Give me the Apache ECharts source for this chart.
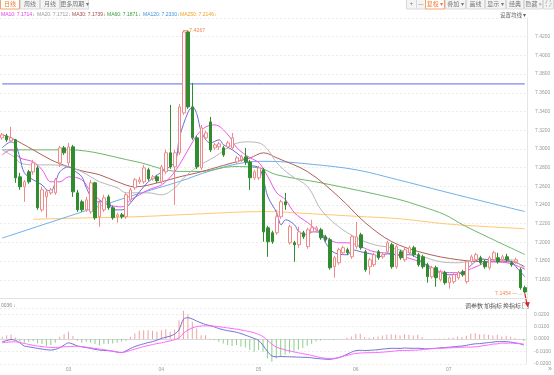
<!DOCTYPE html>
<html><head><meta charset="utf-8">
<script src="https://cdn.jsdelivr.net/npm/echarts@6/dist/echarts.min.js"></script>
<style>html,body{margin:0;padding:0;background:#fff}#c{width:554px;height:375px}</style>
</head><body><div id="c"></div>
<script>
// ---------- DATA ----------
const firstDay = '2025-02-10';
// [open, close, low, high]
const candles = [
[7.3118,7.3150,7.3097,7.3171],[7.3139,7.3097,7.3075,7.3161],[7.3086,7.3118,7.3075,7.3236],[7.3097,7.2691,7.2637,7.3107],
[7.2701,7.2594,7.2562,7.2744],[7.2594,7.2648,7.2434,7.2669],[7.2755,7.2648,7.2627,7.2776],[7.2755,7.2851,7.2723,7.2883],
[7.2797,7.2370,7.2348,7.2819],[7.2348,7.2562,7.2327,7.2594],[7.2487,7.2541,7.2263,7.2562],[7.2530,7.2562,7.2509,7.2584],
[7.2530,7.2669,7.2509,7.2691],[7.2851,7.3011,7.2808,7.3032],[7.3011,7.2958,7.2936,7.3032],[7.2851,7.3022,7.2808,7.3064],
[7.3022,7.2541,7.2487,7.3043],[7.2530,7.2348,7.2327,7.2562],[7.2434,7.2348,7.2327,7.2455],[7.2348,7.2455,7.2327,7.2487],
[7.2327,7.2637,7.2306,7.2669],[7.2637,7.2263,7.2242,7.2648],[7.2274,7.2423,7.2167,7.2455],[7.2348,7.2477,7.2327,7.2509],
[7.2487,7.2370,7.2348,7.2509],[7.2370,7.2263,7.2242,7.2391],[7.2274,7.2295,7.2210,7.2316],[7.2295,7.2274,7.2252,7.2316],
[7.2274,7.2509,7.2252,7.2530],[7.2455,7.2562,7.2434,7.2584],[7.2584,7.2669,7.2562,7.2691],[7.2648,7.2669,7.2627,7.2701],
[7.2648,7.2797,7.2627,7.2829],[7.2776,7.2680,7.2659,7.2797],[7.2680,7.2701,7.2659,7.2723],[7.2701,7.2659,7.2637,7.2723],
[7.2648,7.2808,7.2627,7.2829],[7.2755,7.2958,7.2733,7.2990],[7.2958,7.2808,7.2786,7.3471],[7.2808,7.2958,7.2402,7.2990],
[7.2958,7.3449,7.2936,7.3481],[7.3385,7.4251,7.3364,7.4267],[7.4251,7.3449,7.3428,7.4261],[7.3449,7.3118,7.3097,7.3706],
[7.3118,7.2808,7.2786,7.3139],[7.2797,7.3225,7.2776,7.3257],[7.3118,7.3171,7.3097,7.3193],[7.3289,7.2990,7.2968,7.3342],
[7.3011,7.3043,7.2990,7.3064],[7.3022,7.3054,7.2990,7.3075],[7.3011,7.2936,7.2915,7.3032],[7.3022,7.3064,7.3001,7.3086],
[7.3011,7.3118,7.2990,7.3171],[7.2861,7.2904,7.2840,7.2926],[7.2883,7.2915,7.2861,7.2936],[7.2915,7.2861,7.2829,7.3011],
[7.2861,7.2691,7.2562,7.2883],[7.2691,7.2755,7.2669,7.2776],[7.2691,7.2797,7.2669,7.2819],[7.2776,7.2113,7.2007,7.2797],
[7.2156,7.2007,7.1846,7.2177],[7.2103,7.2007,7.1985,7.2124],[7.2103,7.2274,7.2081,7.2348],[7.2274,7.2434,7.2252,7.2455],
[7.2434,7.2402,7.2348,7.2530],[7.1996,7.2167,7.1975,7.2188],[7.1996,7.1975,7.1793,7.2017],[7.1975,7.2113,7.1943,7.2167],
[7.2103,7.2060,7.2038,7.2124],[7.1954,7.2135,7.1932,7.2156],[7.2113,7.2156,7.2103,7.2242],[7.2135,7.2156,7.2113,7.2177],
[7.2135,7.2049,7.2028,7.2156],[7.2060,7.2028,7.2007,7.2081],[7.2028,7.1729,7.1708,7.2049],[7.1740,7.1836,7.1622,7.1857],
[7.1782,7.1921,7.1761,7.1943],[7.1889,7.1943,7.1868,7.1964],[7.1921,7.1889,7.1868,7.1943],[7.1846,7.2060,7.1825,7.2081],
[7.1954,7.2060,7.1932,7.2220],[7.2081,7.1943,7.1921,7.2103],[7.1900,7.1708,7.1686,7.1921],[7.1740,7.1814,7.1654,7.1836],
[7.1761,7.1868,7.1740,7.1889],[7.1900,7.1836,7.1814,7.1921],[7.1846,7.1868,7.1825,7.1889],[7.1900,7.1996,7.1878,7.2017],
[7.1975,7.1740,7.1718,7.1996],[7.1740,7.1954,7.1718,7.1975],[7.1900,7.1836,7.1814,7.1921],[7.1814,7.1921,7.1793,7.1943],
[7.1889,7.1943,7.1868,7.1964],[7.1943,7.1868,7.1846,7.1964],[7.1868,7.1761,7.1740,7.1889],[7.1846,7.1740,7.1718,7.1868],
[7.1761,7.1633,7.1569,7.1782],[7.1633,7.1729,7.1612,7.1750],[7.1729,7.1622,7.1526,7.1750],[7.1601,7.1686,7.1580,7.1708],
[7.1676,7.1569,7.1548,7.1697],[7.1569,7.1622,7.1505,7.1644],[7.1580,7.1654,7.1558,7.1676],[7.1622,7.1676,7.1601,7.1697],
[7.1686,7.1654,7.1633,7.1708],[7.1580,7.1793,7.1558,7.1814],[7.1793,7.1846,7.1772,7.1868],[7.1814,7.1868,7.1793,7.1889],
[7.1836,7.1782,7.1761,7.1857],[7.1793,7.1740,7.1718,7.1814],[7.1729,7.1836,7.1708,7.1857],[7.1814,7.1889,7.1793,7.1911],
[7.1836,7.1793,7.1772,7.1889],[7.1814,7.1846,7.1793,7.1868],[7.1846,7.1814,7.1793,7.1878],[7.1782,7.1761,7.1740,7.1804],
[7.1793,7.1814,7.1772,7.1836],[7.1708,7.1516,7.1494,7.1729],[7.1516,7.1470,7.1454,7.1537]
];
// moving averages: [dayIndex, value]
const ma5 = [[0,7.3011],[2,7.3075],[3,7.3043],[4,7.2904],[5,7.2744],[7,7.2669],[9,7.2616],[10,7.2562],[11,7.2552],[12,7.2637],[13,7.2755],[15,7.2808],[16,7.2776],[18,7.2701],[19,7.2584],[21,7.2434],[22,7.2434],[24,7.2434],[25,7.2348],[27,7.2348],[29,7.2423],[31,7.2541],[33,7.2648],[36,7.2755],[39,7.2861],[40,7.3118],[42,7.3396],[43,7.3449],[44,7.3364],[45,7.3182],[47,7.3064],[49,7.3097],[50,7.3043],[52,7.2990],[54,7.2915],[56,7.2829],[58,7.2797],[59,7.2669],[60,7.2487],[62,7.2316],[63,7.2188],[64,7.2242],[66,7.2188],[67,7.2113],[69,7.2081],[70,7.2113],[72,7.2103],[73,7.1996],[75,7.1889],[78,7.1868],[79,7.1921],[81,7.1900],[82,7.1889],[84,7.1868],[85,7.1846],[87,7.1878],[89,7.1868],[92,7.1868],[95,7.1782],[97,7.1708],[99,7.1676],[101,7.1654],[104,7.1676],[106,7.1761],[108,7.1825],[110,7.1814],[113,7.1814],[115,7.1793],[116,7.1740],[118,7.1633]];
const ma10 = [[0,7.2936],[2,7.2990],[4,7.2904],[7,7.2861],[9,7.2776],[11,7.2648],[13,7.2648],[15,7.2701],[18,7.2669],[20,7.2541],[22,7.2455],[24,7.2402],[27,7.2380],[29,7.2455],[31,7.2509],[33,7.2562],[36,7.2616],[38,7.2700],[39,7.2760],[40,7.2829],[43,7.3075],[44,7.3150],[46,7.3236],[48,7.3257],[51,7.3150],[53,7.3011],[56,7.2904],[58,7.2851],[60,7.2701],[62,7.2530],[64,7.2455],[66,7.2316],[69,7.2210],[71,7.2135],[74,7.2028],[76,7.1996],[78,7.1996],[81,7.1954],[84,7.1900],[88,7.1878],[95,7.1782],[99,7.1686],[103,7.1676],[107,7.1740],[110,7.1793],[114,7.1782],[118,7.1714]];
const ma20 = [[0,7.2990],[3,7.2904],[4,7.2851],[7,7.2829],[11,7.2829],[15,7.2808],[18,7.2755],[20,7.2701],[22,7.2648],[26,7.2584],[28,7.2530],[30,7.2530],[33,7.2530],[36,7.2509],[39,7.2584],[41,7.2691],[44,7.2808],[48,7.2915],[52,7.3043],[55,7.3075],[58,7.3064],[60,7.2990],[62,7.2851],[65,7.2723],[69,7.2594],[72,7.2348],[76,7.2167],[80,7.2049],[84,7.1975],[88,7.1943],[95,7.1846],[99,7.1793],[103,7.1782],[107,7.1814],[111,7.1814],[115,7.1814],[118,7.1712]];
const ma30 = [[0,7.3150],[2,7.3118],[7,7.2990],[11,7.2883],[15,7.2808],[18,7.2765],[22,7.2723],[26,7.2648],[30,7.2594],[36,7.2648],[40,7.2701],[44,7.2744],[52,7.2851],[56,7.2904],[59,7.2958],[62,7.2904],[69,7.2755],[76,7.2487],[82,7.2210],[88,7.2007],[95,7.1889],[103,7.1814],[110,7.1793],[115,7.1793],[118,7.1739]];
const ma60 = [[0,7.2990],[15,7.2990],[30,7.2866],[40,7.2759],[45,7.2759],[52,7.2811],[58,7.2797],[62,7.2723],[72,7.2637],[89,7.2466],[95,7.2380],[100,7.2295],[104,7.2188],[110,7.2049],[118,7.1871]];
const ma120 = [[0,7.2046],[15,7.2279],[30,7.2509],[40,7.2651],[47,7.2765],[55,7.2856],[60,7.2867],[70,7.2835],[80,7.2776],[89,7.2674],[100,7.2541],[110,7.2423],[118,7.2330]];
const ma250 = [[7,7.2247],[15,7.2258],[30,7.2274],[45,7.2306],[59,7.2330],[70,7.2306],[80,7.2279],[90,7.2252],[100,7.2199],[110,7.2167],[118,7.2146]];
const maNames = ['MA10','MA20','MA30','MA60','MA120','MA250'];
const maLast  = ['7.1714','7.1712','7.1739','7.1871','7.2330','7.2146'];
const refLine = 7.3695;
const highMark = 7.4267, lowMark = 7.1454;
const macdHist = [0.0019,0.0032,0.0037,0.0013,-0.0021,-0.0029,-0.0021,-0.0016,-0.0035,-0.0040,
-0.0056,-0.0048,-0.0029,0.0019,0.0040,0.0059,0.0024,-0.0013,-0.0029,-0.0021,
-0.0029,-0.0040,-0.0051,-0.0040,-0.0040,-0.0035,-0.0029,-0.0021,-0.0013,0.0019,
0.0045,0.0067,0.0072,0.0072,0.0067,0.0059,0.0072,0.0080,0.0059,0.0077,
0.0152,0.0227,0.0200,0.0139,0.0085,0.0032,0.0032,0.0005,-0.0008,-0.0021,
-0.0035,-0.0048,-0.0056,-0.0048,-0.0061,-0.0067,-0.0088,-0.0101,-0.0088,-0.0101,
-0.0155,-0.0181,-0.0155,-0.0141,-0.0125,-0.0112,-0.0099,-0.0085,-0.0072,-0.0053,
-0.0037,-0.0019,-0.0011,-0.0005,-0.0005,-0.0005,-0.0002,0.0003,0.0011,0.0021,
0.0043,0.0043,0.0016,0.0011,0.0016,0.0021,0.0029,0.0035,0.0040,0.0035,
0.0029,0.0040,0.0035,0.0029,0.0035,0.0016,0.0002,0.0001,0.0003,0.0005,
0.0005,0.0011,0.0013,0.0021,0.0016,0.0027,0.0043,0.0048,0.0040,0.0040,
0.0035,0.0029,0.0035,0.0021,0.0027,0.0016,0.0008,0.0002,-0.0015];
const dif = [-0.0021,-0.0012,-0.0003,-0.0010,-0.0030,-0.0056,-0.0062,-0.0068,-0.0075,-0.0080,
-0.0085,-0.0088,-0.0082,-0.0070,-0.0048,-0.0030,-0.0040,-0.0055,-0.0062,-0.0068,
-0.0075,-0.0082,-0.0088,-0.0091,-0.0093,-0.0098,-0.0104,-0.0108,-0.0095,-0.0075,
-0.0060,-0.0048,-0.0038,-0.0028,-0.0020,-0.0008,0.0005,0.0015,0.0024,0.0040,
0.0075,0.0160,0.0172,0.0162,0.0145,0.0130,0.0118,0.0108,0.0098,0.0085,
0.0075,0.0068,0.0062,0.0055,0.0045,0.0032,0.0019,0.0005,-0.0010,-0.0050,
-0.0100,-0.0135,-0.0142,-0.0140,-0.0141,-0.0142,-0.0143,-0.0145,-0.0146,-0.0147,
-0.0150,-0.0155,-0.0158,-0.0161,-0.0163,-0.0158,-0.0150,-0.0138,-0.0122,-0.0105,
-0.0093,-0.0090,-0.0092,-0.0090,-0.0088,-0.0085,-0.0080,-0.0077,-0.0074,-0.0074,
-0.0075,-0.0072,-0.0073,-0.0074,-0.0073,-0.0076,-0.0078,-0.0076,-0.0074,-0.0071,
-0.0068,-0.0065,-0.0062,-0.0058,-0.0056,-0.0050,-0.0043,-0.0038,-0.0036,-0.0032,
-0.0028,-0.0024,-0.0020,-0.0020,-0.0020,-0.0024,-0.0030,-0.0036,-0.0048];
const dea = [-0.0029,-0.0026,-0.0022,-0.0022,-0.0028,-0.0035,-0.0042,-0.0050,-0.0056,-0.0060,
-0.0064,-0.0067,-0.0067,-0.0065,-0.0062,-0.0060,-0.0058,-0.0057,-0.0060,-0.0065,
-0.0070,-0.0075,-0.0080,-0.0085,-0.0090,-0.0096,-0.0104,-0.0108,-0.0102,-0.0090,
-0.0080,-0.0070,-0.0060,-0.0052,-0.0044,-0.0036,-0.0030,-0.0022,-0.0014,-0.0005,
0.0010,0.0048,0.0072,0.0090,0.0100,0.0105,0.0107,0.0106,0.0104,0.0100,
0.0095,0.0090,0.0085,0.0080,0.0074,0.0067,0.0060,0.0050,0.0038,0.0020,
-0.0010,-0.0040,-0.0065,-0.0075,-0.0086,-0.0095,-0.0103,-0.0110,-0.0117,-0.0124,
-0.0131,-0.0140,-0.0148,-0.0153,-0.0156,-0.0155,-0.0150,-0.0140,-0.0130,-0.0122,
-0.0115,-0.0112,-0.0110,-0.0109,-0.0108,-0.0107,-0.0105,-0.0102,-0.0099,-0.0095,
-0.0092,-0.0092,-0.0091,-0.0089,-0.0088,-0.0085,-0.0080,-0.0077,-0.0076,-0.0074,
-0.0072,-0.0071,-0.0069,-0.0068,-0.0065,-0.0064,-0.0064,-0.0062,-0.0058,-0.0052,
-0.0047,-0.0040,-0.0038,-0.0032,-0.0033,-0.0032,-0.0034,-0.0037,-0.0040];
const macdLabel = '0036 ↓';
const toolsLeft = ['日线','周线','月线','更多周期 ▾'];
const toolsRight = ['+','—','复权 ▾','叠加 ▾','画线','显示 ▾','经典','隐藏 »'];
const indicatorTools = ['调参数','加指标','换指标'];

// ---------- categories (trading days) ----------
const dates = [];
{ const d = new Date(firstDay + 'T00:00:00Z');
  while (dates.length < candles.length) {
    const w = d.getUTCDay();
    if (w !== 0 && w !== 6) dates.push(d.toISOString().slice(0,10));
    d.setUTCDate(d.getUTCDate() + 1);
  } }
const monthStart = new Set();
dates.forEach((d,i)=>{ if (i>0 && d.slice(5,7)!==dates[i-1].slice(5,7)) monthStart.add(i); });

// ---------- chart ----------
const chart = echarts.init(document.getElementById('c'));
const CN = '"Noto Sans CJK SC","Noto Sans",sans-serif';
const LAT = '"Liberation Sans","DejaVu Sans",sans-serif';
const maColors = {MA5:'#6b6bd6',MA10:'#ee55ee',MA20:'#b8b8b8',MA30:'#b0605a',MA60:'#6cb86c',MA120:'#6fb0ea',MA250:'#ffc870'};
const legColors = ['#e040e0','#999999','#a04848','#3c9a3c','#3d8fe0','#f0a020'];
const lineS = (name, data) => ({
  type:'line', name, data, xAxisIndex:0, yAxisIndex:0, showSymbol:false, smooth:0.35,
  lineStyle:{width:1, color:maColors[name]}, itemStyle:{color:maColors[name]}, z:3, silent:true
});

const graphics = [];
// toolbar left
const lx = [0,20,40,60], lw = [19,19,19,28];
toolsLeft.forEach((t,i)=>{
  const act = i===0;
  graphics.push({id:'tl'+i,type:'rect',shape:{x:lx[i]+0.5,y:-2,width:lw[i],height:11},style:{fill:act?'#fff':'#f4f4f4',stroke:act?'#f3a26e':'#dadada',lineWidth:1}});
  graphics.push({id:'tlt'+i,type:'text',x:lx[i]+0.5+lw[i]/2,y:3.8,style:{text:t,fill:act?'#f07a30':'#777',font:'6px '+CN,align:'center',verticalAlign:'middle'}});
});
const rx = [406,416,425,445,466,485,506,524], rw = [10,9,19,20,18,20,17,18];
toolsRight.forEach((t,i)=>{
  const act = i===2;
  graphics.push({id:'tr'+i,type:'rect',shape:{x:rx[i]+0.5,y:-2,width:rw[i],height:11},style:{fill:act?'#fff':'#f4f4f4',stroke:act?'#f3a26e':'#dadada',lineWidth:1}});
  graphics.push({id:'trt'+i,type:'text',x:rx[i]+0.5+rw[i]/2,y:3.8,style:{text:t,fill:act?'#f07a30':'#777',font:'6px '+CN,align:'center',verticalAlign:'middle'}});
});
graphics.push({id:'fs',type:'rect',shape:{x:543.5,y:-2,width:10,height:11},style:{fill:'#f4f4f4',stroke:'#dadada'}});
graphics.push({id:'fsi',type:'rect',shape:{x:546,y:1,width:5,height:5},style:{fill:'none',stroke:'#999',lineWidth:0.8,lineDash:[1.5,2]}});
// MA legend row
const legX = [1,37,72,107,143,180];
maNames.forEach((n,i)=>{
  graphics.push({id:'lg'+i,type:'text',x:legX[i],y:14.5,style:{text:n+': '+maLast[i]+'↓',fill:legColors[i],font:'5px '+LAT,verticalAlign:'middle'}});
});
graphics.push({id:'setma',type:'text',x:500,y:14.5,style:{text:'设置均线 ▾',fill:'#666',font:'5.5px '+CN,verticalAlign:'middle'}});
// MACD header
graphics.push({id:'mh',type:'text',x:1,y:305.5,style:{text:macdLabel,fill:'#888',font:'5px '+LAT,verticalAlign:'middle'}});
const ix = [465,484,503];
indicatorTools.forEach((t,i)=>{
  graphics.push({id:'it'+i,type:'text',x:ix[i],y:305.5,style:{text:t,fill:'#555',font:'6px '+CN,verticalAlign:'middle'}});
});
graphics.push({id:'box',type:'rect',shape:{x:522.5,y:302.5,width:6,height:6},style:{fill:'#fff',stroke:'#aaa',lineWidth:0.8}});
graphics.push({id:'more',type:'text',x:548,y:369.5,style:{text:'»',fill:'#999',font:'7px '+LAT,verticalAlign:'middle'}});

const option = {
  animation:false,
  backgroundColor:'#fff',
  grid:[
    {left:0,right:27,top:18,height:280.5},
    {left:0,right:27,top:308,height:56}
  ],
  xAxis:[
    {type:'category',gridIndex:0,data:dates,boundaryGap:true,
     axisLine:{show:true,lineStyle:{color:'#e2e2e2'}},axisTick:{show:false},axisLabel:{show:false},splitLine:{show:false}},
    {type:'category',gridIndex:1,data:dates,boundaryGap:true,
     axisLine:{show:true,lineStyle:{color:'#d8d8d8'}},axisTick:{show:false},
     axisLabel:{interval:(i)=>monthStart.has(i),formatter:(v)=>v.slice(5,7),fontSize:5,color:'#999',margin:3,fontFamily:LAT},
     splitLine:{show:false}}
  ],
  yAxis:[
    {type:'value',gridIndex:0,position:'right',min:7.14,max:7.44,interval:0.02,
     axisLine:{show:true,lineStyle:{color:'#e6e6e6'}},axisTick:{show:false},
     axisLabel:{fontSize:5,color:'#999',margin:8,fontFamily:LAT,showMinLabel:false,showMaxLabel:false,formatter:(v)=>v.toFixed(4)},
     splitLine:{show:true,lineStyle:{color:'#ececec',type:[2,2]}}},
    {type:'value',gridIndex:1,position:'right',min:-0.02,max:0.025,interval:0.01,
     axisLine:{show:true,lineStyle:{color:'#e6e6e6'}},axisTick:{show:false},
     axisLabel:{fontSize:5,color:'#999',margin:8,fontFamily:LAT,showMaxLabel:false,formatter:(v)=>v.toFixed(4)},
     splitLine:{show:true,lineStyle:{color:'#ececec',type:[2,2]}}}
  ],
  series:[
    {type:'line',name:'ref',data:[[0,refLine],[candles.length-1,refLine]],xAxisIndex:0,yAxisIndex:0,
     showSymbol:false,silent:true,z:2,lineStyle:{color:'#5a68f0',width:1},itemStyle:{color:'#5a68f0'}},
    {type:'candlestick',name:'K',data:candles,xAxisIndex:0,yAxisIndex:0,barWidth:3,z:4,
     itemStyle:{color:'#ffffff',color0:'#2f8c2f',borderColor:'#f08a8a',borderColor0:'#2f8c2f',borderWidth:1},
     markPoint:{silent:true,data:[
       {coord:[candles.findIndex(c=>c[3]===highMark),highMark],symbol:'rect',symbolSize:[5,0.8],symbolOffset:[2,0],
        itemStyle:{color:'#f08a50'},label:{show:true,position:'right',distance:1,formatter:highMark.toFixed(4),color:'#f08a50',fontSize:5.2,fontFamily:LAT}},
       {coord:[candles.length-1,lowMark],symbol:'rect',symbolSize:[0.1,0.1],itemStyle:{color:'rgba(0,0,0,0)'},
        label:{show:true,position:'left',distance:2,formatter:lowMark.toFixed(4)+' —→',color:'#f08a50',fontSize:5.2,fontFamily:LAT}}
     ]}},
    lineS('MA250',ma250), lineS('MA120',ma120), lineS('MA60',ma60), lineS('MA30',ma30),
    lineS('MA20',ma20), lineS('MA10',ma10), lineS('MA5',ma5),
    {type:'bar',name:'MACD',data:macdHist,xAxisIndex:1,yAxisIndex:1,barWidth:1,silent:true,
     itemStyle:{color:(p)=>p.value>=0?'#f2a0a0':'#8ccf8c'}},
    {type:'line',name:'DIF',data:dif,xAxisIndex:1,yAxisIndex:1,showSymbol:false,smooth:0.3,silent:true,lineStyle:{width:1,color:'#7272d2'}},
    {type:'line',name:'DEA',data:dea,xAxisIndex:1,yAxisIndex:1,showSymbol:false,smooth:0.3,silent:true,lineStyle:{width:1,color:'#ff66ff'}}
  ],
  graphic:graphics
};
chart.setOption(option);
// red pointer arrow below the latest low
const p = chart.convertToPixel({gridIndex:0},[candles.length-1,lowMark]);
chart.setOption({graphic:[
  {id:'arrL',type:'line',shape:{x1:p[0],y1:p[1],x2:p[0]+2.5,y2:p[1]+12},style:{stroke:'#e02020',lineWidth:1.2}},
  {id:'arrH',type:'polygon',shape:{points:[[p[0]+0.2,p[1]+9.5],[p[0]+5,p[1]+8.5],[p[0]+3,p[1]+14]]},style:{fill:'#e02020'}}
]});
</script></body></html>
